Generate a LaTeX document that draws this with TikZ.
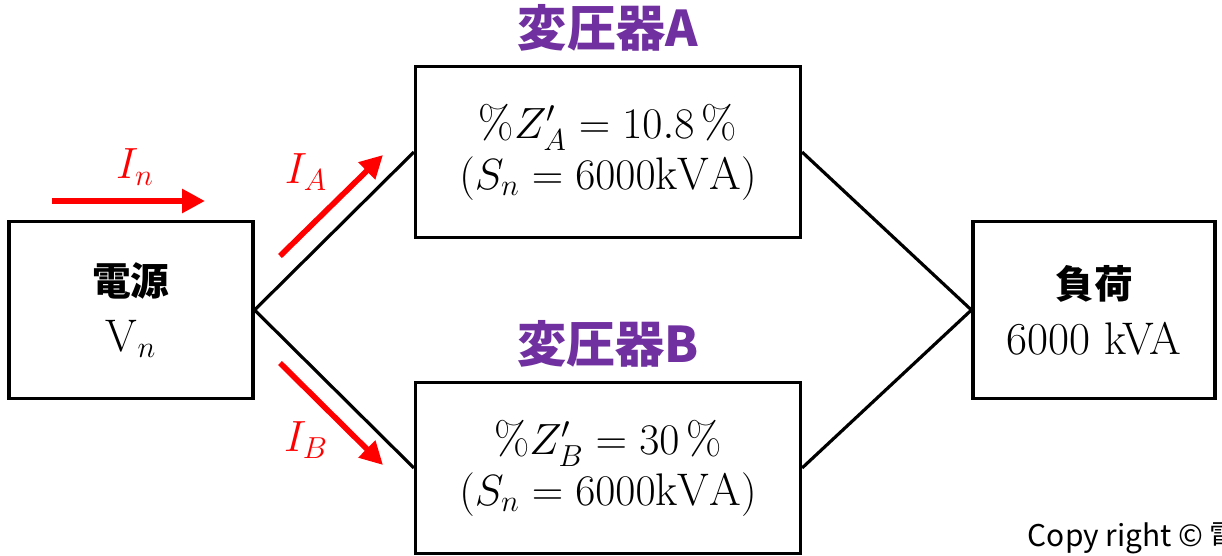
\documentclass[tikz,border=0pt]{standalone}
\usepackage{amsmath}
\usepackage{fontspec}
\usepackage{tikz}
\usetikzlibrary{arrows.meta, positioning}
\newfontfamily\jpfont{Noto Sans CJK JP}
\definecolor{trpurple}{HTML}{7030A0}
\definecolor{curred}{HTML}{FF0000}

\begin{document}
\begin{tikzpicture}[
  box/.style={
    rectangle, draw=black, line width=1.8pt,
    align=center, fill=white,
    font=\fontsize{26}{29}\selectfont
  },
  wire/.style={line width=1.8pt, color=black},
  current/.style={-{Triangle[length=13pt, width=13pt]}, line width=3.2pt, color=curred},
  curlabel/.style={font=\fontsize{25}{28}\selectfont, color=curred},
  title/.style={font=\jpfont\bfseries\fontsize{28}{32}\selectfont, color=trpurple}
]
\useasboundingbox (0,0) rectangle (24.44,11.10);

% Nodes
\node[box, minimum width=4.88cm, minimum height=3.54cm] (src) at (2.62,4.90) {%
  {\jpfont\bfseries\fontsize{22}{26}\selectfont 電源}\\[3pt]
  $\mathrm{V}_n$
};

\node[box, minimum width=7.7cm, minimum height=3.42cm] (trA) at (12.16,8.06) {%
  $\%Z'_A = 10.8\,\%$\\
  $(S_n = 6000\mathrm{kVA})$
};

\node[box, minimum width=7.7cm, minimum height=3.42cm] (trB) at (12.16,1.74) {%
  $\%Z'_B = 30\,\%$\\
  $(S_n = 6000\mathrm{kVA})$
};

\node[box, minimum width=4.84cm, minimum height=3.54cm] (load) at (21.88,4.90) {%
  {\jpfont\bfseries\fontsize{22}{26}\selectfont 負荷}\\[3pt]
  6000 kVA
};

\node[title, above=0.15cm of trA] (ttlA) {変圧器A};
\node[title, above=0.15cm of trB] (ttlB) {変圧器B};

% Wires
\draw[wire] (src.east) -- (trA.west);
\draw[wire] (src.east) -- (trB.west);
\draw[wire] (trA.east) -- (load.west);
\draw[wire] (trB.east) -- (load.west);

% Currents
\coordinate (in0) at (1.04,7.08);
\coordinate (in1) at (4.10,7.08);
\coordinate (ia0) at (5.60,5.98);
\coordinate (ia1) at (7.66,8.00);
\coordinate (ib0) at (5.60,3.84);
\coordinate (ib1) at (7.66,1.80);
\draw[current] (in0) -- (in1);
\draw[current] (ia0) -- (ia1);
\draw[current] (ib0) -- (ib1);

\node[curlabel] (lin) at (2.70,7.76) {$I_n$};
\node[curlabel] (lia) at (6.12,7.66) {$I_A$};
\node[curlabel] (lib) at (6.12,2.30) {$I_B$};

% Copyright
\node[anchor=west, inner sep=0pt, font=\jpfont\fontsize{17}{19}\selectfont] (copy) at (20.55,0.34) {Copy right © 電};

\end{tikzpicture}
\end{document}
